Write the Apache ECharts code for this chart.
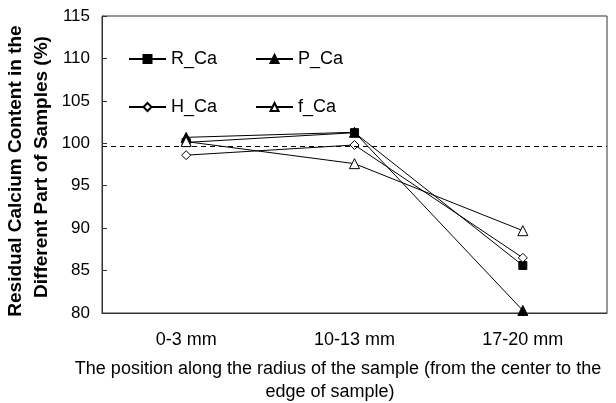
<!DOCTYPE html>
<html><head><meta charset="utf-8">
<script src="https://cdn.jsdelivr.net/npm/echarts@6/dist/echarts.min.js"></script>
<style>html,body{margin:0;padding:0;background:#fff}#c{width:616px;height:403px}</style>
</head><body><div id="c"></div>
<script>
var categories = ['0-3 mm', '10-13 mm', '17-20 mm'];
var R_Ca = [100.1, 101.25, 85.6];
var P_Ca = [100.7, 101.3, 80.3];
var H_Ca = [98.6, 99.8, 86.5];
var f_Ca = [100.2, 97.6, 89.7];
var refLine = 99.7;
var yMin = 80, yMax = 115, yStep = 5;

var FONT = 'Liberation Sans, Arial, sans-serif';
function mk(name, data, symbol, size, filled) {
  return {
    name: name, type: 'line', data: data, symbol: symbol, symbolSize: size,
    lineStyle: {color: '#000', width: 1},
    itemStyle: {color: filled ? '#000' : '#fff', borderColor: '#000', borderWidth: 1},
    showAllSymbol: true, z: 3
  };
}
var series = [
  mk('R_Ca', R_Ca, 'rect', 8, true),
  mk('P_Ca', P_Ca, 'triangle', 10, true),
  mk('H_Ca', H_Ca, 'diamond', 9, false),
  mk('f_Ca', f_Ca, 'triangle', 10, false)
];
series[0].markLine = {
  silent: true, symbol: 'none', label: {show: false},
  lineStyle: {color: '#000', type: [5, 4], width: 1},
  data: [{yAxis: refLine}]
};
var legendText = {fontFamily: FONT, fontSize: 18, color: '#000'};
var chart = echarts.init(document.getElementById('c'), null, {renderer: 'canvas'});
chart.setOption({
  animation: false,
  backgroundColor: '#fff',
  grid: {left: 102, right: 9, top: 16, bottom: 90, show: true, borderColor: '#333', borderWidth: 1, backgroundColor: 'transparent'},
  legend: [
    {data: ['R_Ca', 'P_Ca'], left: 128, top: 50, itemWidth: 37, itemHeight: 10, itemGap: 38, textStyle: legendText, padding: 0},
    {data: ['H_Ca', 'f_Ca'], left: 128, top: 98, itemWidth: 37, itemHeight: 10, itemGap: 38, textStyle: legendText, padding: 0}
  ],
  xAxis: {
    type: 'category', data: categories, boundaryGap: true,
    axisLine: {lineStyle: {color: '#333'}},
    axisTick: {inside: true, length: 5, lineStyle: {color: '#333'}},
    axisLabel: {fontFamily: FONT, fontSize: 18, color: '#000', margin: 18}
  },
  yAxis: {
    type: 'value', min: yMin, max: yMax, interval: yStep,
    axisLine: {show: true, lineStyle: {color: '#333'}},
    axisTick: {show: true, inside: true, length: 5, lineStyle: {color: '#333'}},
    splitLine: {show: false},
    axisLabel: {fontFamily: FONT, fontSize: 17, color: '#000', margin: 12}
  },
  title: [
    {text: 'The position along the radius of the sample (from the center to the', left: 338, top: 360, textAlign: 'center',
      textStyle: {fontFamily: FONT, fontSize: 18, fontWeight: 'normal', color: '#000'}, padding: 0},
    {text: 'edge of sample)', left: 330, top: 383, textAlign: 'center',
      textStyle: {fontFamily: FONT, fontSize: 18, fontWeight: 'normal', color: '#000'}, padding: 0}
  ],
  graphic: [
    {type: 'text', x: 16, y: 171, rotation: Math.PI / 2, style: {text: 'Residual Calcium Content in the', font: 'bold 19px ' + FONT, fill: '#000', align: 'center', verticalAlign: 'middle'}},
    {type: 'text', x: 42, y: 167, rotation: Math.PI / 2, style: {text: 'Different Part of Samples (%)', font: 'bold 19px ' + FONT, fill: '#000', align: 'center', verticalAlign: 'middle'}}
  ],
  series: series
});
</script></body></html>
